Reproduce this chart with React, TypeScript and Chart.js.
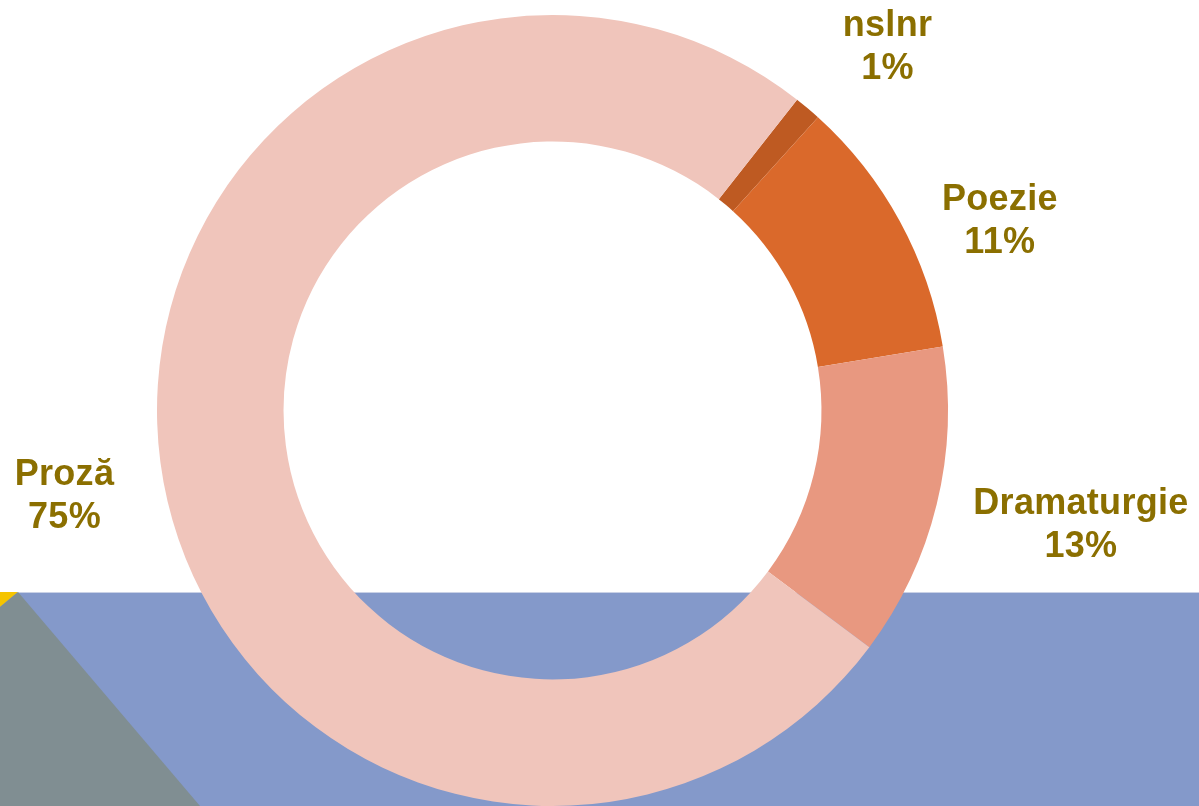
import React, { useEffect, useRef } from "react";
import { Chart, registerables } from "chart.js";

Chart.register(...registerables);

const categories = ["nslnr", "Poezie", "Dramaturgie", "Proză"];
const values = [1.1, 10.7, 12.8, 75.4];
const percentLabels = ["1%", "11%", "13%", "75%"];
const sliceColors = ["#BE5A22", "#DA692B", "#E89880", "#F0C5BB"];
// small hand adjustments of the outside labels (px)
const labelNudges: [number, number][] = [
  [20, -1],
  [7, 37],
  [-7, -1],
  [1, 21],
];

const W = 1199;
const H = 806;

const backgroundPlugin = {
  id: "bgShapes",
  beforeDraw(chart: any) {
    const ctx = chart.ctx;
    ctx.save();
    ctx.fillStyle = "#ffffff";
    ctx.fillRect(0, 0, W, H);
    ctx.fillStyle = "#8499CA";
    ctx.fillRect(0, 592, W, H - 592);
    ctx.fillStyle = "#C9D1E6";
    ctx.fillRect(0, 592, W, 1);
    ctx.fillStyle = "#F5C400";
    ctx.beginPath();
    ctx.moveTo(0, 592);
    ctx.lineTo(18, 592);
    ctx.lineTo(0, 607);
    ctx.closePath();
    ctx.fill();
    ctx.fillStyle = "#808E92";
    ctx.beginPath();
    ctx.moveTo(18, 592);
    ctx.lineTo(200, H);
    ctx.lineTo(0, H);
    ctx.lineTo(0, 607);
    ctx.closePath();
    ctx.fill();
    ctx.restore();
  },
};

const labelPlugin = {
  id: "outsideLabels",
  afterDatasetsDraw(chart: any) {
    const ctx = chart.ctx;
    const meta = chart.getDatasetMeta(0);
    const fontSize = 36;
    const lineH = 43;
    const cap = fontSize * 0.716;
    ctx.save();
    ctx.font = `bold ${fontSize}px "Liberation Sans", Arial, sans-serif`;
    try {
      (ctx as any).letterSpacing = "0.3px";
    } catch (e) {}
    ctx.fillStyle = "#8B6F00";
    ctx.textAlign = "center";
    ctx.textBaseline = "alphabetic";
    meta.data.forEach((arc: any, i: number) => {
      const p = arc.getProps(["x", "y", "startAngle", "endAngle", "outerRadius"], true);
      const mid = (p.startAngle + p.endAngle) / 2;
      const l1 = categories[i];
      const l2 = percentLabels[i];
      const w = Math.max(ctx.measureText(l1).width, ctx.measureText(l2).width);
      const h = cap + lineH;
      const d = p.outerRadius + 48;
      const cx = p.x + Math.cos(mid) * d + (Math.cos(mid) * w) / 2 + labelNudges[i][0];
      const cy = p.y + Math.sin(mid) * d + (Math.sin(mid) * h) / 2 + labelNudges[i][1];
      const top = cy - h / 2;
      ctx.fillText(l1, cx, top + cap);
      ctx.fillText(l2, cx, top + cap + lineH);
    });
    ctx.restore();
  },
};

export default function App() {
  const ref = useRef<HTMLCanvasElement | null>(null);
  useEffect(() => {
    if (!ref.current) return;
    const chart = new Chart(ref.current, {
      type: "doughnut",
      data: {
        labels: categories,
        datasets: [
          {
            data: values,
            backgroundColor: sliceColors,
            borderWidth: 0,
            hoverOffset: 0,
          },
        ],
      },
      options: {
        responsive: false,
        animation: false,
        rotation: 38.2,
        cutout: "68%",
        layout: { padding: { left: 157, right: 251, top: 15, bottom: 0 } },
        plugins: {
          legend: { display: false },
          tooltip: { enabled: false },
        },
        events: [],
      },
      plugins: [backgroundPlugin, labelPlugin],
    });
    return () => chart.destroy();
  }, []);
  return (
    <div style={{ position: "fixed", left: 0, top: 0, width: W, height: H, overflow: "hidden" }}>
      <canvas ref={ref} width={W} height={H} style={{ display: "block", width: W, height: H }} />
    </div>
  );
}
